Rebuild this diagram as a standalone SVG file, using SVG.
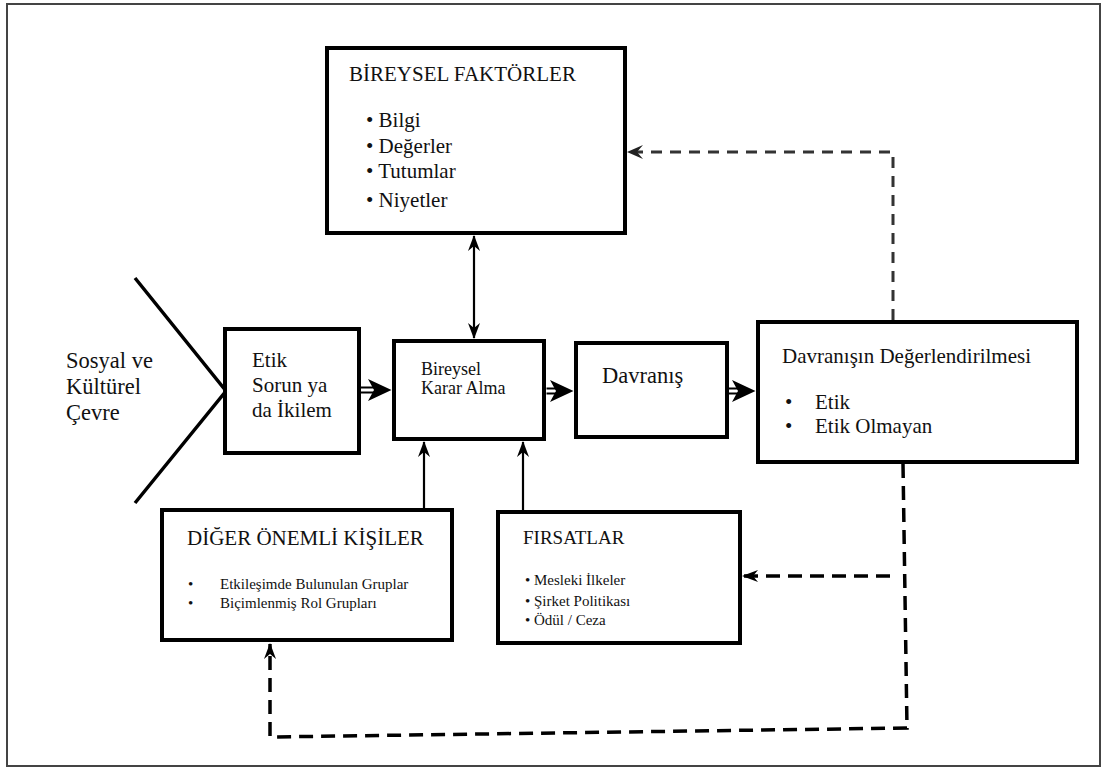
<svg xmlns="http://www.w3.org/2000/svg" width="1105" height="769" viewBox="0 0 1105 769">
  <style>
    text { fill: #111; }
    .box { fill: #fff; stroke: #000; stroke-width: 4; }
    .t22 { font-size: 22.5px; }
    .t21 { font-size: 21px; }
    .t19 { font-size: 19px; }
    .t15 { font-size: 15px; }
    .solid { stroke: #000; stroke-width: 2.2; fill: none; }
    .dbl { stroke: #000; stroke-width: 2; fill: none; }
    .dash { stroke: #000; stroke-width: 3.5; fill: none; stroke-dasharray: 14 8; }
    .dash-thin { stroke: #333; stroke-width: 3; fill: none; stroke-dasharray: 11 8; }
  </style>
  <defs>
    <marker id="barb" viewBox="0 0 16 12" markerUnits="userSpaceOnUse" markerWidth="16" markerHeight="12" refX="15" refY="6" orient="auto-start-reverse">
      <path d="M0,0 L16,6 L0,12 L5,6 z" fill="#000"/>
    </marker>
    <marker id="barb-open" viewBox="0 0 16 14" markerUnits="userSpaceOnUse" markerWidth="16" markerHeight="14" refX="15" refY="7" orient="auto">
      <path d="M0,0 L16,7 L0,14 L6,7 z" fill="#222"/>
    </marker>
  </defs>

  <!-- outer frame -->
  <rect x="7" y="4" width="1093" height="762" fill="#fff" stroke="#444" stroke-width="2"/>

  <g font-family="Liberation Serif, Tinos, Times New Roman, serif">
  <!-- environment chevron and label -->
  <g id="cevre">
    <polyline points="135,278 226,391 135,503" fill="none" stroke="#000" stroke-width="3.5"/>
    <text class="t22" x="66" y="368">Sosyal ve</text>
    <text class="t22" x="66" y="394">Kültürel</text>
    <text class="t22" x="66" y="420">Çevre</text>
  </g>

  <g id="bireysel-faktorler">
    <rect class="box" x="327" y="48" width="298" height="185"/>
    <text class="t21" x="349" y="81">BİREYSEL FAKTÖRLER</text>
    <text class="t21" x="366" y="127">• Bilgi</text>
    <text class="t21" x="366" y="153">• Değerler</text>
    <text class="t21" x="366" y="178">• Tutumlar</text>
    <text class="t21" x="366" y="207">• Niyetler</text>
  </g>

  <g id="etik-sorun">
    <rect class="box" x="225" y="329" width="134" height="124" stroke-width="3.5"/>
    <text class="t21" x="252" y="367">Etik</text>
    <text class="t21" x="252" y="392">Sorun ya</text>
    <text class="t21" x="252" y="417">da İkilem</text>
  </g>

  <g id="karar-alma">
    <rect class="box" x="394" y="341" width="150" height="98" stroke-width="5"/>
    <text x="421" y="375" font-size="18">Bireysel</text>
    <text x="421" y="394" font-size="18">Karar Alma</text>
  </g>

  <g id="davranis">
    <rect class="box" x="576" y="343" width="151" height="94"/>
    <text x="602" y="383" font-size="22.5">Davranış</text>
  </g>

  <g id="degerlendirme">
    <rect class="box" x="758" y="322" width="319" height="140"/>
    <text class="t21" x="782" y="363">Davranışın Değerlendirilmesi</text>
    <text class="t21" x="785" y="409">•</text>
    <text class="t21" x="815" y="409">Etik</text>
    <text class="t21" x="785" y="433">•</text>
    <text class="t21" x="815" y="433">Etik Olmayan</text>
  </g>

  <g id="diger-kisiler">
    <rect class="box" x="162" y="510" width="290" height="130" stroke-width="5"/>
    <text class="t21" x="187" y="545">DİĞER ÖNEMLİ KİŞİLER</text>
    <text class="t15" x="188" y="589">•</text>
    <text class="t15" x="220" y="589">Etkileşimde Bulunulan Gruplar</text>
    <text class="t15" x="188" y="608">•</text>
    <text class="t15" x="220" y="608">Biçimlenmiş Rol Grupları</text>
  </g>

  <g id="firsatlar">
    <rect class="box" x="498" y="512" width="242" height="131"/>
    <text class="t19" x="523" y="544">FIRSATLAR</text>
    <text class="t15" x="525" y="585">• Mesleki İlkeler</text>
    <text class="t15" x="525" y="606">• Şirket Politikası</text>
    <text class="t15" x="525" y="625">• Ödül / Ceza</text>
  </g>
  </g>

  <g id="connectors">
    <!-- double-line flow arrows -->
    <g id="flow-1">
      <path class="dbl" d="M361,387.5 H378 M361,392.5 H378"/>
      <path d="M391.5,390 L368,379 L374,390 L368,401 z" fill="#000"/>
    </g>
    <g id="flow-2">
      <path class="dbl" d="M546.5,388.5 H563 M546.5,393.5 H563"/>
      <path d="M573.5,391 L550,380 L556,391 L550,402 z" fill="#000"/>
    </g>
    <g id="flow-3">
      <path class="dbl" d="M729,388.5 H745 M729,393.5 H745"/>
      <path d="M755.5,391 L732,380 L738,391 L732,402 z" fill="#000"/>
    </g>

    <!-- solid single arrows -->
    <line class="solid" x1="474" y1="236" x2="474" y2="338" marker-start="url(#barb)" marker-end="url(#barb)"/>
    <line class="solid" x1="424" y1="508" x2="424" y2="442" marker-end="url(#barb)"/>
    <line class="solid" x1="523" y1="510" x2="523" y2="442" marker-end="url(#barb)"/>

    <!-- feedback loops -->
    <path class="dash-thin" d="M893,320 V152 H628" marker-end="url(#barb-open)"/>
    <path class="dash" d="M903,464 L907,728 L270,737 V644" marker-end="url(#barb)"/>
    <path class="dash" d="M890,576 H743" marker-end="url(#barb)"/>
  </g>
</svg>
